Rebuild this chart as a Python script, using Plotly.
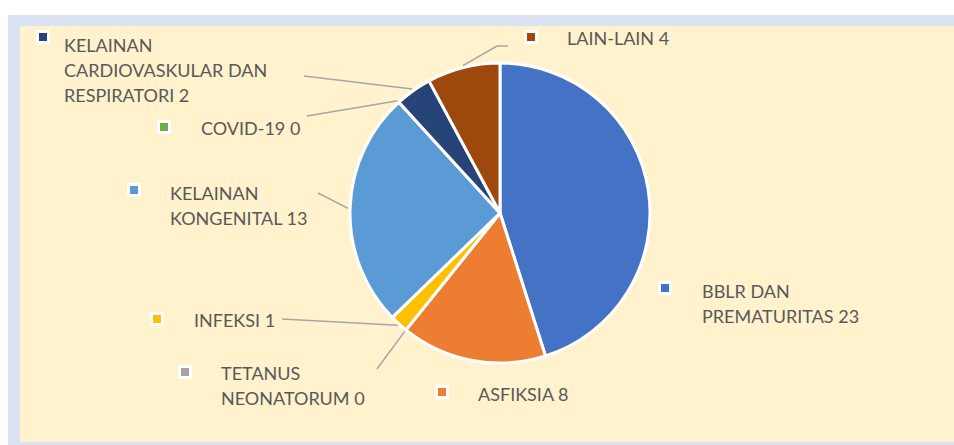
import math
import plotly.graph_objects as go

W, H = 954, 445

# data
labels = ["BBLR DAN PREMATURITAS", "ASFIKSIA", "TETANUS NEONATORUM", "INFEKSI",
          "KELAINAN KONGENITAL", "COVID-19", "KELAINAN CARDIOVASKULAR DAN RESPIRATORI", "LAIN-LAIN"]
values = [23, 8, 0, 1, 13, 0, 2, 4]
label_lines = [["BBLR DAN", "PREMATURITAS"], ["ASFIKSIA"], ["TETANUS", "NEONATORUM"], ["INFEKSI"],
               ["KELAINAN", "KONGENITAL"], ["COVID-19"], ["KELAINAN", "CARDIOVASKULAR DAN", "RESPIRATORI"],
               ["LAIN-LAIN"]]
colors = ["#4472C4", "#ED7D31", "#A5A5A5", "#FFC000", "#5B9BD5", "#70AD47", "#264478", "#9E480E"]

# layout (pixel positions)
CX, CY, R = 500, 213, 150
text_pos = [(700, 291), (476, 394), (219, 373), (192, 320), (168, 193), (199, 128), (62, 45), (565, 38)]
square_pos = [(665, 288), (442, 392), (185, 372), (157, 319), (134, 190), (164, 127), (43, 37), (531, 37)]
leader_from = {2: [(377, 369)], 3: [(282, 319)], 4: [(318, 193)], 5: [(307, 116)],
               6: [(304, 76)], 7: [(508, 46), (497, 46)]}
LINE_H = 25


def px(x, y):
    return x / W, 1 - y / H


fig = go.Figure()
fig.add_trace(go.Pie(
    labels=labels, values=values, sort=False, direction="clockwise", rotation=0,
    marker=dict(colors=colors, line=dict(color="white", width=3)),
    textinfo="none", showlegend=False,
    domain=dict(x=[(CX - R) / W, (CX + R) / W], y=[1 - (CY + R) / H, 1 - (CY - R) / H]),
))

shapes = [
    dict(type="rect", xref="paper", yref="paper", x0=8 / W, x1=1, y0=0, y1=1 - 15 / H,
         fillcolor="#DAE3F3", line_width=0, layer="below"),
    dict(type="rect", xref="paper", yref="paper", x0=20 / W, x1=1, y0=1 - 442 / H, y1=1 - 26 / H,
         fillcolor="#FFF2CC", line_width=0, layer="below"),
]

annotations = []
total = sum(values)
cum = 0
for i, v in enumerate(values):
    lines = label_lines[i][:-1] + [label_lines[i][-1] + " " + str(v)]
    tx, ty = text_pos[i]
    for k, line in enumerate(lines):
        x, y = px(tx, ty + k * LINE_H)
        annotations.append(dict(x=x, y=y, xref="paper", yref="paper", text=line, showarrow=False,
                                xanchor="left", yanchor="middle",
                                font=dict(family="Lato", size=18, color="#595959")))
    sx, sy = square_pos[i]
    for half, col in [(7, "white"), (4, colors[i])]:
        x0, y0 = px(sx - half, sy + half)
        x1, y1 = px(sx + half, sy - half)
        shapes.append(dict(type="rect", xref="paper", yref="paper", x0=x0, x1=x1, y0=y0, y1=y1,
                           fillcolor=col, line_width=0))
    if i in leader_from:
        a = 2 * math.pi * (cum + v / 2) / total
        end = (CX + (R + 2) * math.sin(a), CY - (R + 2) * math.cos(a))
        pts = leader_from[i] + [end]
        for p, q in zip(pts[:-1], pts[1:]):
            x0, y0 = px(*p)
            x1, y1 = px(*q)
            shapes.append(dict(type="line", xref="paper", yref="paper", x0=x0, y0=y0, x1=x1, y1=y1,
                               line=dict(color="#A6A6A6", width=1.5)))
    cum += v

fig.update_layout(
    width=W, height=H, margin=dict(l=0, r=0, t=0, b=0),
    paper_bgcolor="white", plot_bgcolor="white",
    shapes=shapes, annotations=annotations,
)

# page has a default 8px body margin; drop it so the figure sits at 0,0
fig.write_html("out.html", config={"displayModeBar": False},
               post_script="document.body.style.margin='0';document.body.style.overflow='hidden';")
